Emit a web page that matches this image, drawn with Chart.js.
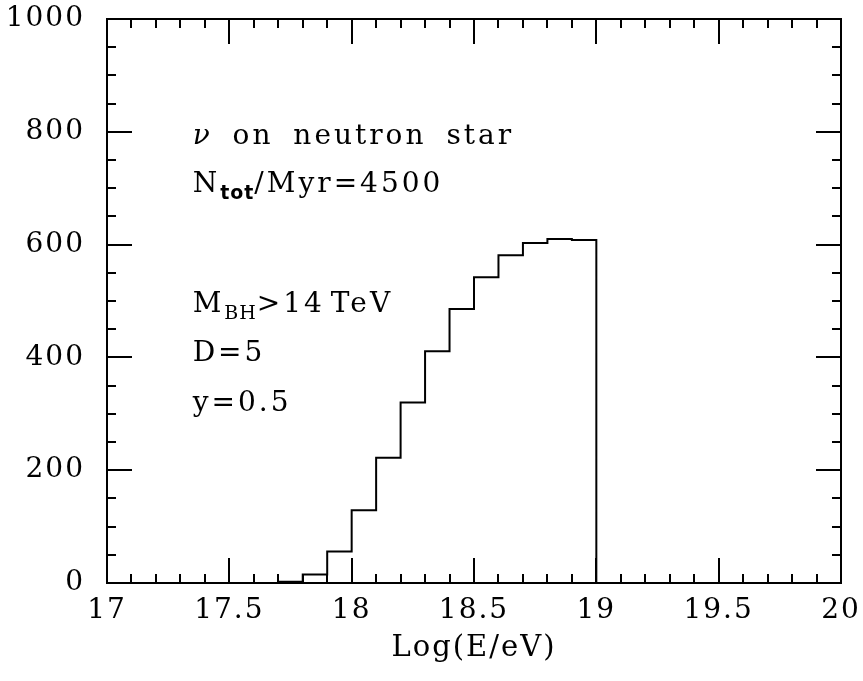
<!DOCTYPE html>
<html>
<head>
<meta charset="utf-8">
<script src="https://cdn.jsdelivr.net/npm/chart.js@4.4.1/dist/chart.umd.min.js"></script>
<style>
  html, body { margin: 0; padding: 0; background: #fff; }
  #wrap { width: 863px; height: 681px; }
</style>
</head>
<body>
<div id="wrap"><canvas id="c" width="863" height="681"></canvas></div>
<script>
// ---- data ----
const binLowEdges = [17.0,17.1,17.2,17.3,17.4,17.5,17.6,17.7,17.8,17.9,
                     18.0,18.1,18.2,18.3,18.4,18.5,18.6,18.7,18.8,18.9,
                     19.0,19.1,19.2,19.3,19.4,19.5,19.6,19.7,19.8,19.9];
const binCounts   = [0,0,0,0,0,0,0,2,15,56,
                     129,222,320,411,486,542,581,603,610,608,
                     0,0,0,0,0,0,0,0,0,0];
const binWidth = 0.1;
const xTickLabels = [17, 17.5, 18, 18.5, 19, 19.5, 20];
const yTickLabels = [0, 200, 400, 600, 800, 1000];
const xMinorStep = 0.1;
const yMinorStep = 50;
const annotationLines = [
  { y: 779, gap: 8,  parts: [{t: 'ν', italic: true}, {t: ' on neutron star'}] },
  { y: 694, gap: 0,  parts: [{t: 'N'}, {t: 'tot', sub: true, sans: true}, {t: '/Myr=4500'}] },
  { y: 481, gap: -6, parts: [{t: 'M'}, {t: 'BH', sub: true}, {t: '>14 TeV'}] },
  { y: 394, gap: 0,  parts: [{t: 'D=5'}] },
  { y: 305, gap: 0,  parts: [{t: 'y=0.5'}] }
];
const annotationX = 17.35;

// histogram points (stepped 'before'): value of a point spans up to the next edge
const histPoints = binLowEdges.map((x, i) => ({ x: x, y: binCounts[i] }));
histPoints.push({ x: binLowEdges[binLowEdges.length - 1] + binWidth, y: binCounts[binCounts.length - 1] });

const SERIF = '"DejaVu Serif", "Liberation Serif", serif';

const spacing = {
  id: 'spacing',
  beforeDraw(chart) { chart.ctx.letterSpacing = '2px'; },
  afterDraw(chart) { chart.ctx.letterSpacing = '0px'; }
};

const frameTicks = {
  id: 'frameTicks',
  afterDatasetsDraw(chart) {
    const ctx = chart.ctx;
    const xs = chart.scales.x, ys = chart.scales.y;
    const a = chart.chartArea;
    ctx.save();
    ctx.strokeStyle = '#000';
    ctx.lineWidth = 2;
    ctx.lineCap = 'butt';
    ctx.strokeRect(a.left, a.top, a.right - a.left, a.bottom - a.top);
    const MAJ = 25, MIN = 9;
    ctx.beginPath();
    const nX = Math.round((xs.max - xs.min) / xMinorStep);
    for (let i = 0; i <= nX; i++) {
      const v = xs.min + i * xMinorStep;
      const isMaj = xTickLabels.some(t => Math.abs(t - v) < 1e-6);
      const L = isMaj ? MAJ : MIN;
      const px = Math.round(xs.getPixelForValue(v));
      ctx.moveTo(px, a.bottom); ctx.lineTo(px, a.bottom - L);
      ctx.moveTo(px, a.top); ctx.lineTo(px, a.top + L);
    }
    const nY = Math.round((ys.max - ys.min) / yMinorStep);
    for (let i = 0; i <= nY; i++) {
      const v = ys.min + i * yMinorStep;
      const isMaj = yTickLabels.some(t => Math.abs(t - v) < 1e-6);
      const L = isMaj ? MAJ : MIN;
      const py = Math.round(ys.getPixelForValue(v));
      ctx.moveTo(a.left, py); ctx.lineTo(a.left + L, py);
      ctx.moveTo(a.right, py); ctx.lineTo(a.right - L, py);
    }
    ctx.stroke();

    // annotations
    ctx.fillStyle = '#000';
    ctx.textBaseline = 'alphabetic';
    ctx.textAlign = 'left';
    annotationLines.forEach(line => {
      let x = xs.getPixelForValue(annotationX);
      const y = ys.getPixelForValue(line.y);
      line.parts.forEach(p => {
        let font, dy = 0;
        if (p.sub) {
          font = (p.sans ? 'bold 19px "DejaVu Sans", sans-serif' : '19px ' + SERIF);
          dy = 7;
          ctx.letterSpacing = '1px';
        } else if (p.italic) {
          font = 'italic 28px ' + SERIF;
          ctx.letterSpacing = '3px';
        } else {
          font = '28px ' + SERIF;
          ctx.letterSpacing = '3px';
        }
        ctx.font = font;
        const words = p.t.split(' ');
        const spaceW = ctx.measureText(' ').width;
        words.forEach((w, k) => {
          if (k > 0) x += spaceW + line.gap;
          if (w.length) {
            ctx.fillText(w, x, y + dy);
            x += ctx.measureText(w).width;
          }
        });
      });
    });
    ctx.restore();
  }
};

new Chart(document.getElementById('c'), {
  type: 'line',
  data: {
    datasets: [{
      data: histPoints,
      stepped: 'before',
      borderColor: '#000',
      borderWidth: 2,
      pointRadius: 0,
      fill: false,
      tension: 0
    }]
  },
  options: {
    responsive: false,
    animation: false,
    devicePixelRatio: 1,
    layout: { padding: { top: 19, right: 22, left: 0, bottom: 0 } },
    plugins: { legend: { display: false }, tooltip: { enabled: false } },
    scales: {
      x: {
        type: 'linear',
        min: 17, max: 20,
        grid: { display: false, drawTicks: false },
        border: { display: false },
        afterBuildTicks: s => { s.ticks = xTickLabels.map(v => ({ value: v })); },
        afterFit: s => { s.height = 98; s.paddingLeft = 0; s.paddingRight = 0; },
        ticks: {
          padding: 11,
          maxRotation: 0,
          autoSkip: false,
          color: '#000',
          font: { family: SERIF, size: 28 },
          callback: v => String(v)
        },
        title: {
          display: true,
          text: 'Log(E/eV)',
          color: '#000',
          font: { family: SERIF, size: 29 },
          padding: { top: 0, bottom: 15 }
        }
      },
      y: {
        type: 'linear',
        min: 0, max: 1000,
        grid: { display: false, drawTicks: false },
        border: { display: false },
        afterBuildTicks: s => { s.ticks = yTickLabels.map(v => ({ value: v })); },
        afterFit: s => { s.width = 107; s.paddingTop = 0; s.paddingBottom = 0; },
        ticks: {
          padding: 22,
          autoSkip: false,
          color: '#000',
          font: { family: SERIF, size: 28 },
          callback: v => String(v)
        }
      }
    }
  },
  plugins: [spacing, frameTicks]
});
</script>
</body>
</html>
